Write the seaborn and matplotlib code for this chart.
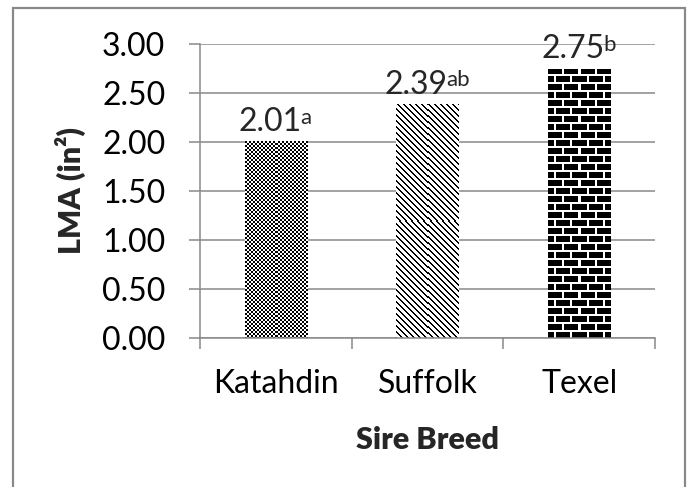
import numpy as np
import pandas as pd
import matplotlib
matplotlib.use('Agg')
import matplotlib.pyplot as plt
import seaborn as sns
from matplotlib.patches import Rectangle

breeds = ['Katahdin', 'Suffolk', 'Texel']
lma = [2.01, 2.39, 2.75]
letters = ['a', 'ab', 'b']
yticks = [0.0, 0.5, 1.0, 1.5, 2.0, 2.5, 3.0]

sns.set_style('white')
plt.rcParams['font.family'] = ['Lato', 'DejaVu Sans']
grey = '#898989'

df = pd.DataFrame({'breed': breeds, 'lma': lma})

fig = plt.figure(figsize=(6.88, 4.87), dpi=100)
ax = fig.add_axes([200/688, 1 - 338/487, 455/688, 294/487])

sns.barplot(data=df, x='breed', y='lma', width=0.41, color='white',
            edgecolor='none', ax=ax, zorder=2)


# textures (checker, diagonal lines, bricks), one per bar
def checker(h, w):
    r, c = np.mgrid[0:h, 0:w]
    return ((r // 2 + c // 2) % 2).astype(float)


def diag(h, w):
    r, c = np.mgrid[0:h, 0:w]
    return ((c - r) % 6 >= 2).astype(float)


def bricks(h, w):
    r, c = np.mgrid[0:h, 0:w]
    row = r // 8
    shift = (row % 2) * 8
    mortar = (r % 8 >= 6) | ((c + shift) % 16 >= 14)
    return mortar.astype(float)


textures = [checker, diag, bricks]
px_x = 455 / 3.0   # pixels per category
px_y = 294 / 3.0   # pixels per unit
for patch, tex in zip(ax.patches, textures):
    x0 = patch.get_x()
    w = patch.get_width()
    h = patch.get_height()
    img = tex(int(round(h * px_y)), int(round(w * px_x)))
    im = ax.imshow(img, cmap='gray', vmin=0, vmax=1, interpolation='nearest',
                   extent=(x0, x0 + w, 0, h), aspect='auto', origin='upper',
                   zorder=2)
    im.set_clip_path(patch)

ax.set_xlim(-0.5, 2.5)
ax.set_ylim(0, 3)

# grid / spines
ax.set_yticks(yticks)
ax.set_yticklabels([f'{t:.2f}' for t in yticks])
ax.yaxis.grid(True, color=grey, linewidth=1.1, zorder=0)
ax.set_axisbelow(True)
for s in ['top', 'right']:
    ax.spines[s].set_visible(False)
for s in ['left', 'bottom']:
    ax.spines[s].set_color(grey)
    ax.spines[s].set_linewidth(1.1)

ax.tick_params(axis='y', direction='out', length=8, width=1.1, color=grey,
               pad=17, labelsize=23, labelcolor='black', left=True)
ax.tick_params(axis='x', which='major', length=0, pad=22, labelsize=23,
               labelcolor='black')
ax.set_xticks([-0.5, 0.5, 1.5, 2.5], minor=True)
ax.tick_params(axis='x', which='minor', direction='out', length=8, width=1.1,
               color=grey, bottom=True)

ax.set_xlabel('Sire Breed', fontsize=22, fontweight='heavy')
ax.xaxis.set_label_coords(0.5, -0.30)
ax.set_ylabel('LMA (in²)', fontsize=22, fontweight='heavy')
ax.yaxis.set_label_coords(-0.25, 0.5)

# value labels with superscript letters
for i, (v, let) in enumerate(zip(lma, letters)):
    t = ax.annotate(f'{v:.2f}', xy=(i, v), xytext=(-4.2 * len(let), 3),
                    textcoords='offset points', ha='center', va='bottom',
                    fontsize=23, zorder=5)
    ax.annotate(let, xy=(1, 1), xycoords=t, xytext=(-1, -0.5),
                textcoords='offset points', ha='left', va='top',
                fontsize=16, zorder=5)

# outer frame
fig.patches.append(Rectangle((13/688, -0.05), 672/688, 1.05 - 8/487,
                             transform=fig.transFigure, fill=False,
                             edgecolor=grey, linewidth=1.6))

fig.savefig('out.png', dpi=100)
